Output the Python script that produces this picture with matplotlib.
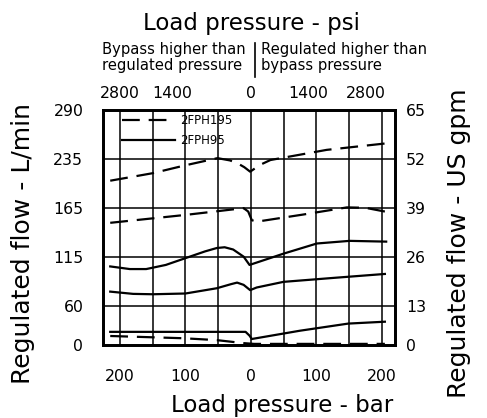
import matplotlib
matplotlib.use("Agg")
import matplotlib.pyplot as plt
from matplotlib.lines import Line2D

plt.rcParams['font.family'] = ['DejaVu Sans']

# load pressure in bar (negative = bypass side), flow in US gpm
fph195_hi_x = [-215, -150, -100, -51, -32, -21, -10, -1, 4, 14, 30, 116, 216]
fph195_hi_y = [46.2, 48.2, 50.3, 52.2, 51.6, 50.9, 49.8, 48.6, 49.2, 50.4, 51.7, 54.4, 56.3]

fph195_mid_x = [-215, -100, -11, -4, 1.5, 9, 80, 147, 175, 205]
fph195_mid_y = [35.0, 37.1, 38.9, 38.0, 35.7, 35.3, 37.2, 39.1, 39.0, 38.0]

fph195_lo_x = [-215, -103, -52, -11, 5, 205]
fph195_lo_y = [4.9, 4.3, 3.8, 3.0, 2.8, 2.8]

fph95_hi_x = [-215, -185, -160, -130, -100, -70, -52, -40, -27, -11, -2, 1.5, 50, 101, 151, 207]
fph95_hi_y = [23.4, 22.7, 22.7, 23.8, 25.6, 27.4, 28.3, 28.5, 27.9, 26.0, 23.8, 24.0, 26.8, 29.5, 30.2, 30.0]

fph95_mid_x = [-215, -180, -150, -100, -52, -30, -21, -11, -1, 9, 50, 130, 205]
fph95_mid_y = [16.7, 16.1, 16.0, 16.2, 17.6, 18.7, 19.1, 18.5, 17.1, 17.8, 19.3, 20.4, 21.4]

fph95_lo_x = [-215, -100, -8, -2, 1.5, 75, 149, 205]
fph95_lo_y = [6.0, 6.0, 6.0, 5.0, 4.1, 6.3, 8.2, 8.7]

bar_ticks = [-200, -100, 0, 100, 200]
bar_labels = ['200', '100', '0', '100', '200']
psi_ticks = [-200, -121, 0, 88, 176]
psi_labels = ['2800', '1400', '0', '1400', '2800']
flow_ticks = [2.5, 13, 26, 39, 52, 65]
lpm_labels = ['0', '60', '115', '165', '235', '290']
gpm_labels = ['0', '13', '26', '39', '52', '65']
grid_x = [-200, -150, -100, -50, 0, 50, 100, 150, 200]
grid_y = [13, 26, 39, 52]

fig = plt.figure(figsize=(4.87, 4.18), dpi=100)
ax = fig.add_axes([0.2109, 0.1746, 0.6002, 0.5622])
ax.set_xlim(-226.5, 220.5)
ax.set_ylim(2.5, 65)

for v in grid_x:
    ax.axvline(v, color='black', lw=1.1, zorder=1)
for h in grid_y:
    ax.axhline(h, color='black', lw=1.1, zorder=1)

dash = (8, 4)
lw = 1.6
ax.plot(fph195_hi_x, fph195_hi_y, color='black', lw=lw, dashes=dash, label='2FPH195')
ax.plot(fph195_mid_x, fph195_mid_y, color='black', lw=lw, dashes=dash)
ax.plot(fph195_lo_x, fph195_lo_y, color='black', lw=lw, dashes=dash)
ax.plot(fph95_hi_x, fph95_hi_y, color='black', lw=lw, label='2FPH95')
ax.plot(fph95_mid_x, fph95_mid_y, color='black', lw=lw)
ax.plot(fph95_lo_x, fph95_lo_y, color='black', lw=lw)

ax.legend(loc='upper left', bbox_to_anchor=(0.065, 0.984), frameon=False,
          fontsize=8.5, handlelength=4.5, handletextpad=0.45, labelspacing=0.6,
          borderpad=0, borderaxespad=0)

for s in ax.spines.values():
    s.set_linewidth(1.8)

ax.set_xticks(bar_ticks)
ax.set_xticklabels(bar_labels)
ax.set_yticks(flow_ticks)
ax.set_yticklabels(lpm_labels)
ax.tick_params(axis='x', length=0, pad=17, labelsize=11.3)
ax.tick_params(axis='y', length=0, pad=14, labelsize=11.3)

axr = ax.twinx()
axr.set_ylim(2.5, 65)
axr.set_yticks(flow_ticks)
axr.set_yticklabels(gpm_labels)
axr.tick_params(axis='y', length=0, pad=8, labelsize=11.3)

axt = ax.twiny()
axt.set_xlim(-226.5, 220.5)
axt.set_xticks(psi_ticks)
axt.set_xticklabels(psi_labels)
axt.tick_params(axis='x', length=0, pad=6.5, labelsize=11.3)

for a in (axr, axt):
    for s in a.spines.values():
        s.set_linewidth(1.8)

W, H = 487, 418
fig.text(251 / W, 1 - 30 / H, 'Load pressure - psi', ha='center', va='baseline', fontsize=16.5)
fig.text(282.5 / W, 1 - 412 / H, 'Load pressure - bar', ha='center', va='baseline', fontsize=16.5)
fig.text(101.7 / W, 1 - 54 / H, 'Bypass higher than', ha='left', va='baseline', fontsize=10.6)
fig.text(101.7 / W, 1 - 69.7 / H, 'regulated pressure', ha='left', va='baseline', fontsize=10.6)
fig.text(260.7 / W, 1 - 54 / H, 'Regulated higher than', ha='left', va='baseline', fontsize=10.6)
fig.text(260.7 / W, 1 - 69.7 / H, 'bypass pressure', ha='left', va='baseline', fontsize=10.6)
fig.add_artist(Line2D([255 / W, 255 / W], [1 - 43 / H, 1 - 77 / H], color='black', lw=1.2))
fig.text(23 / W, 1 - 243 / H, 'Regulated flow - L/min', rotation=90, ha='center', va='center', fontsize=18)
fig.text(459 / W, 1 - 243 / H, 'Regulated flow - US gpm', rotation=90, ha='center', va='center', fontsize=18)

fig.savefig('out.png', dpi=100)
